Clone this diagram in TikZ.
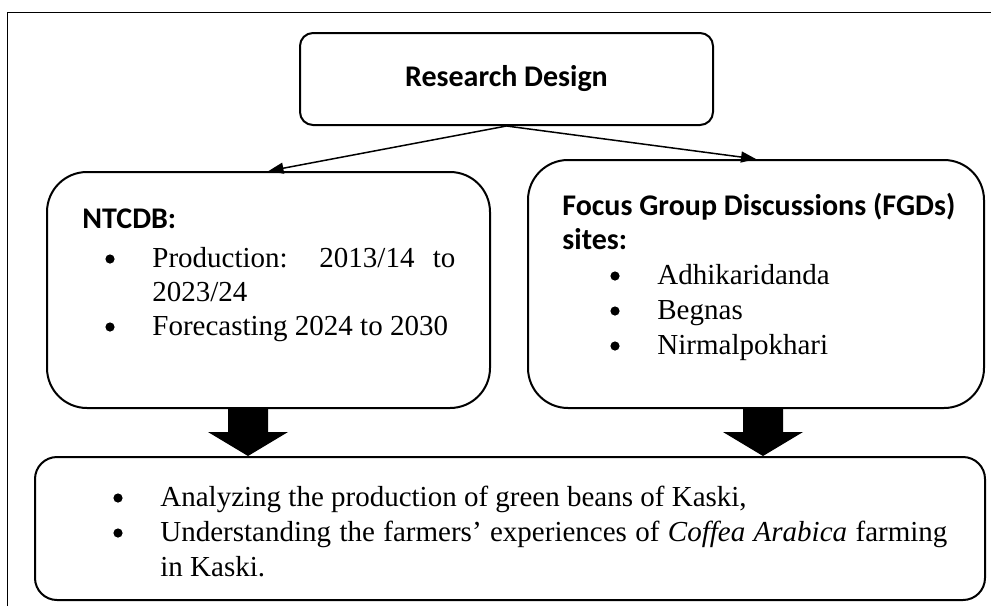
\documentclass[tikz,border=0pt]{standalone}
\usepackage{fontspec}
\setmainfont{Liberation Serif}
\newfontfamily\calibri{Carlito}
\usepackage{tikz}
\usetikzlibrary{arrows.meta,calc}

\tikzset{
  box/.style={draw, line width=1pt, rounded corners=20pt},
  head/.style={font=\calibri\bfseries\fontsize{15}{17.5}\selectfont, inner sep=0pt},
  body/.style={font=\fontsize{14.5}{17.5}\selectfont, inner sep=0pt},
  dot/.style={circle, fill, inner sep=0pt, minimum size=4.6pt},
  link/.style={line width=0.75pt, -{Triangle[length=7.5pt,width=5.5pt]}},
}
\newcommand{\fatarrow}[2]{%
  \fill ($(#1)+(-20,0)$) -- ($(#1)+(20,0)$) -- ($(#2)+(20,-24)$) -- ($(#2)+(40,-24)$)
    -- (#2) -- ($(#2)+(-40,-24)$) -- ($(#2)+(-20,-24)$) -- cycle;}

\begin{document}
\begin{tikzpicture}[x=0.5pt, y=-0.5pt]
  \useasboundingbox (0,0) rectangle (991,606);
  \draw[line width=0.5pt] (7,606) -- (7,12) -- (991,12);

  \node[box, rounded corners=6.5pt, minimum width=206.5pt, minimum height=46pt, head] (rd) at (506.5,79) {Research Design};
  \node[box, minimum width=221.5pt, minimum height=118pt] (lbox) at (268.5,290) {};
  \node[box, minimum width=228pt, minimum height=124pt] (rbox) at (756,284) {};
  \node[box, rounded corners=11pt, minimum width=475pt, minimum height=71.5pt] (bot) at (510,528.5) {};

  \draw[link] (rd.south) -- (lbox.north);
  \draw[link] (rd.south) -- (rbox.north);

  \node[head, anchor=base west] (ntcdb) at (82,228) {NTCDB:};
  \node[dot] (b1) at (110,259) {};
  \node[body, anchor=base west] (prod) at (152,267) {\makebox[151.5pt][s]{Production: 2013/14 to}};
  \node[body, anchor=base west] (prodend) at (152,301) {2023/24};
  \node[dot] (b2) at (110,327) {};
  \node[body, anchor=base west] (fore) at (152,335) {Forecasting 2024 to 2030};

  \node[head, anchor=base west] (fgd) at (562,215) {Focus Group Discussions (FGDs)};
  \node[head, anchor=base west] (sites) at (562,249) {sites:};
  \foreach \site [count=\i] in {Adhikaridanda, Begnas, Nirmalpokhari} {
    \node[dot] at (615,{241+35*\i}) {};
    \node[body, anchor=base west] (site\i) at (657,{249+35*\i}) {\site};
  }

  \node[dot] (b3) at (118,498) {};
  \node[body, anchor=base west] (ana) at (160,506) {Analyzing the production of green beans of Kaski,};
  \node[dot] (b4) at (118,533) {};
  \node[body, anchor=base west] (und) at (160,541) {\makebox[393.5pt][s]{Understanding the farmers’ experiences of \textit{Coffea Arabica} farming}};
  \node[body, anchor=base west] (kaski) at (160,576) {in Kaski.};

  \coordinate (la) at (248,0);
  \coordinate (ra) at (763,0);
  \fatarrow{la |- lbox.south}{la |- bot.north}
  \fatarrow{ra |- rbox.south}{ra |- bot.north}
\end{tikzpicture}
\end{document}
